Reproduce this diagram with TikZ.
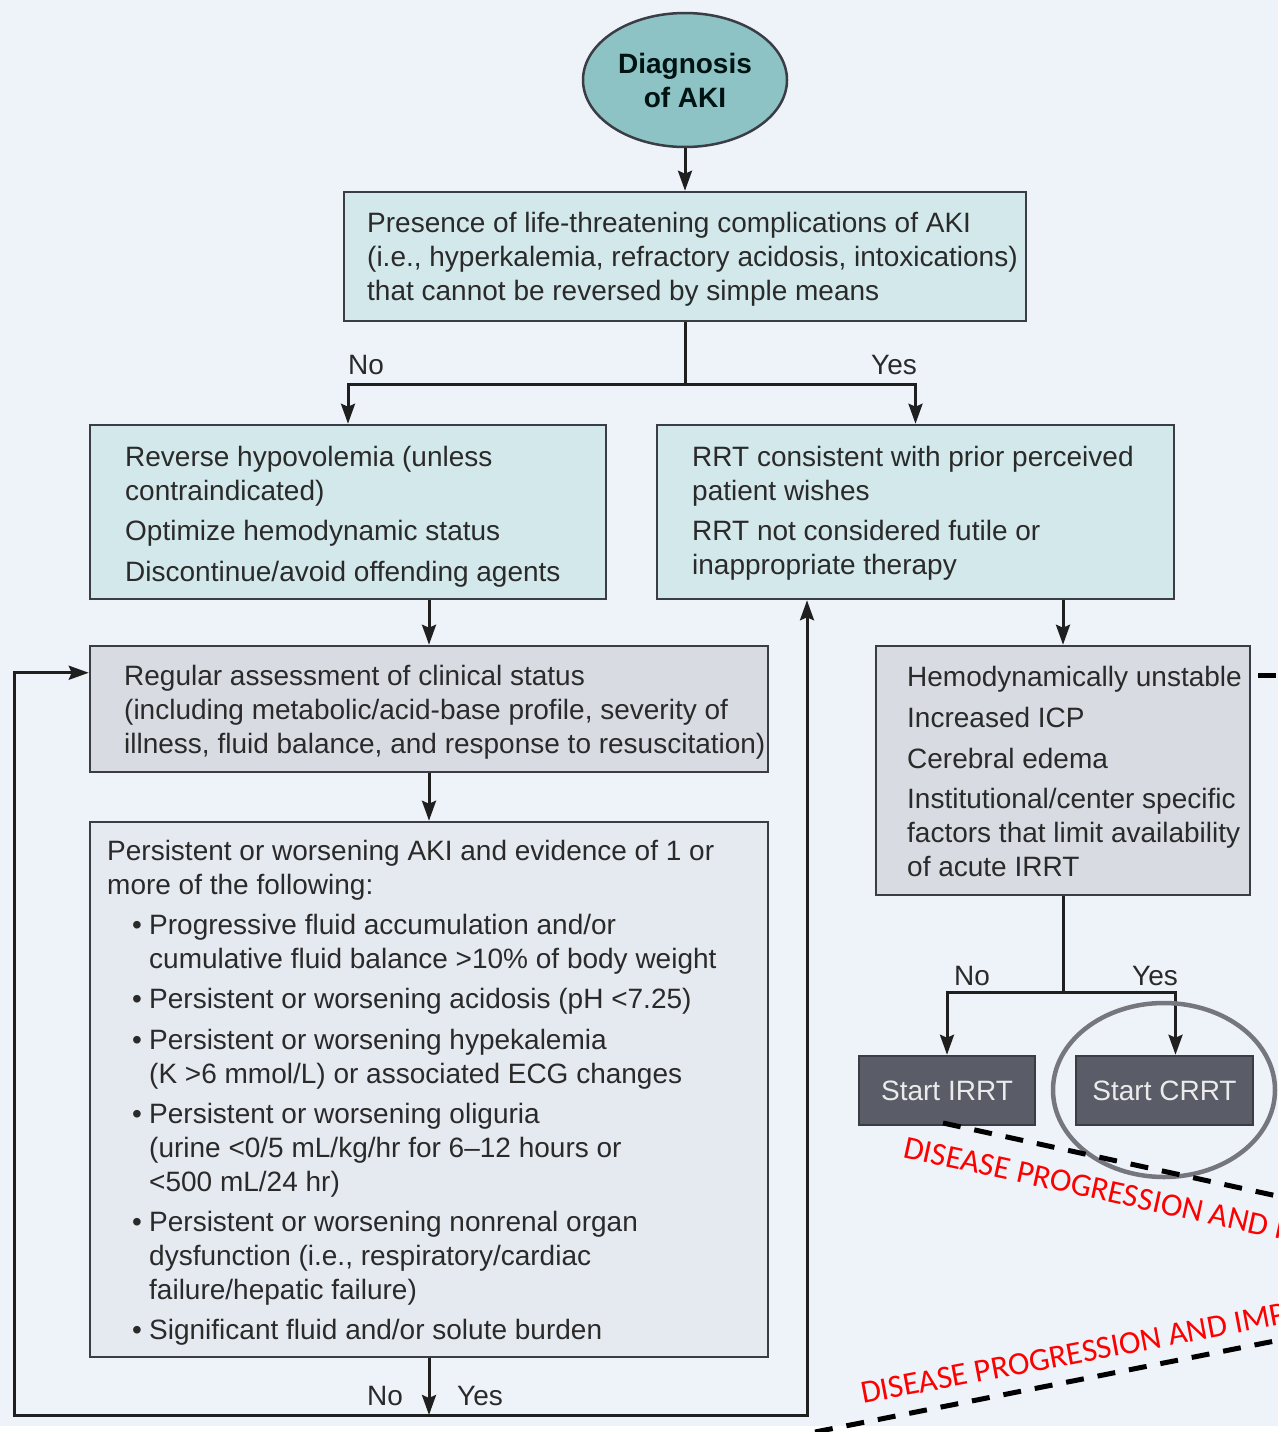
\documentclass[tikz,border=0pt]{standalone}
\usepackage{fontspec}
\setmainfont{Liberation Sans}
\newfontfamily\redfont{Carlito}
\usetikzlibrary{arrows.meta,calc,shapes.geometric}
\definecolor{bgc}{HTML}{EEF3FA}
\definecolor{tealfill}{HTML}{D3E8EB}
\definecolor{greyfill}{HTML}{D8DBE2}
\definecolor{lightfill}{HTML}{E5E9F0}
\definecolor{darkfill}{HTML}{5A5D67}
\definecolor{ellfill}{HTML}{8EC3C5}
\definecolor{edge}{HTML}{3A3D45}
\definecolor{txtc}{HTML}{2A2A2A}
\definecolor{ringc}{HTML}{76777E}
\tikzset{
  boxbase/.style={draw=edge, line width=2.5pt, inner sep=0pt, rectangle},
  tealbox/.style={boxbase, fill=tealfill},
  greybox/.style={boxbase, fill=greyfill},
  lightbox/.style={boxbase, fill=lightfill},
  darkbox/.style={boxbase, fill=darkfill, text=white!92!black},
  txt/.style={inner sep=0pt, align=left, text=txtc},
  lbl/.style={inner sep=0pt, text=txtc},
  arr/.style={draw=black!88, line width=3pt, -{Stealth[length=20pt,width=14pt,inset=3pt]}},
  ln/.style={draw=black!88, line width=3pt},
  dashline/.style={draw=black, line width=5pt, dash pattern=on 18pt off 14pt},
  redtxt/.style={inner sep=0pt, text=red, font=\redfont\fontsize{32.5}{38}\selectfont},
}
\begin{document}
\begin{tikzpicture}[x=1pt,y=1pt, font=\fontsize{28}{34}\selectfont]
\useasboundingbox (0,0) rectangle (1278,-1432);
\clip (0,0) rectangle (1278,-1432);
\fill[bgc] (0,0) rectangle (1278,-1432);
\fill[white] (0,-1426) rectangle (1278,-1432);

% ellipse
\node[ellipse, draw=edge, line width=2.5pt, fill=ellfill, minimum width=204pt, minimum height=134pt, inner sep=0pt, align=center, text=black!85!teal, font=\fontsize{28}{34}\selectfont\bfseries] (dx) at (685,-80) {Diagnosis\\of AKI};

% boxes
\node[tealbox, minimum width=682pt, minimum height=129pt] (b1) at (685,-256.5) {};
\node[tealbox, minimum width=516pt, minimum height=174pt] (b2) at (348,-512) {};
\node[tealbox, minimum width=517pt, minimum height=174pt] (b3) at (915.5,-512) {};
\node[greybox, minimum width=678pt, minimum height=126pt] (b4) at (429,-709) {};
\node[lightbox, minimum width=678pt, minimum height=535pt] (b5) at (429,-1089.5) {};
\node[greybox, minimum width=374pt, minimum height=249pt] (b6) at (1063,-770.5) {};
\node[darkbox, minimum width=176pt, minimum height=69pt] (irrt) at (947,-1090.5) {Start IRRT};
\node[darkbox, minimum width=177pt, minimum height=69pt] (crrt) at (1164.5,-1090.5) {Start CRRT};

% texts
\node[txt, anchor=west] (t1) at (367,-259) {Presence of life-threatening complications of AKI\\(i.e., hyperkalemia, refractory acidosis, intoxications)\\that cannot be reversed by simple means};
\node[txt, anchor=west] (t2) at (125,-516.5) {Reverse hypovolemia (unless\\contraindicated)\\[6pt]Optimize hemodynamic status\\[7pt]Discontinue/avoid offending agents};
\node[txt, anchor=west] (t3) at (692,-513) {RRT consistent with prior perceived\\patient wishes\\[6pt]RRT not considered futile or\\inappropriate therapy};
\node[txt, anchor=west] (t4) at (124,-712) {Regular assessment of clinical status\\(including metabolic/acid-base profile, severity of\\illness, fluid balance, and response to resuscitation)};
\node[txt, anchor=west] (t6) at (907,-771) {Hemodynamically unstable\\[7pt]Increased ICP\\[7pt]Cerebral edema\\[6pt]Institutional/center specific\\factors that limit availability\\of acute IRRT};
\node[txt, anchor=west] (t5) at (107,-1092.5) {Persistent or worsening AKI and evidence of 1 or\\more of the following:\\[6pt]
\hspace*{25pt}\makebox[17pt][l]{•}Progressive fluid accumulation and/or\\
\hspace*{42pt}cumulative fluid balance >10\% of body weight\\[6pt]
\hspace*{25pt}\makebox[17pt][l]{•}Persistent or worsening acidosis (pH <7.25)\\[7pt]
\hspace*{25pt}\makebox[17pt][l]{•}Persistent or worsening hypekalemia\\
\hspace*{42pt}(K >6 mmol/L) or associated ECG changes\\[6pt]
\hspace*{25pt}\makebox[17pt][l]{•}Persistent or worsening oliguria\\
\hspace*{42pt}(urine <0/5 mL/kg/hr for 6–12 hours or\\
\hspace*{42pt}<500 mL/24 hr)\\[6pt]
\hspace*{25pt}\makebox[17pt][l]{•}Persistent or worsening nonrenal organ\\
\hspace*{42pt}dysfunction (i.e., respiratory/cardiac\\
\hspace*{42pt}failure/hepatic failure)\\[6pt]
\hspace*{25pt}\makebox[17pt][l]{•}Significant fluid and/or solute burden};

% labels
\node[lbl] (n1) at (366,-365) {No};
\node[lbl] (y1) at (894,-365) {Yes};
\node[lbl] (n2) at (972,-976) {No};
\node[lbl] (y2) at (1155,-976) {Yes};
\node[lbl] (n3) at (385,-1396) {No};
\node[lbl] (y3) at (480,-1396) {Yes};

% coordinates
\coordinate (j1) at (685,-384);
\coordinate (jb) at (429,-1415);
\coordinate (lp) at (14,-1415);
\coordinate (rp) at (807,-1415);
\coordinate (j2) at (1063,-992);
\coordinate (crrtin) at ($(crrt.north)+(11,0)$);
\coordinate (b4in) at ($(b4.north west)+(0,-28)$);

% connectors
\draw[arr] (dx) -- (b1);
\draw[ln] (b1.south) -- (j1);
\draw[arr] (j1) -| (b2.north);
\draw[arr] (j1) -| (b3.north);
\draw[arr] (b2.south -| b4.north) -- (b4.north);
\draw[arr] (b4) -- (b5);
\draw[arr] (b5.south) -- (jb);
\draw[arr] (jb) -- (lp) |- (b4in);
\draw[arr] (jb) -- (rp) -- (rp |- b3.south);
\draw[arr] (b3.south -| b6.north) -- (b6.north);
\draw[ln] (b6.south) -- (j2);
\draw[arr] (j2) -| (irrt.north);
\draw[arr] (j2) -| (crrtin);

% highlight ring
\node[ellipse, draw=ringc, line width=4.5pt, minimum width=222pt, minimum height=174pt, inner sep=0pt] (ring) at (1164,-1090) {};

% dashed lines and red labels
\coordinate (d0a) at (1258,-675);
\coordinate (d0b) at (1300,-675);
\coordinate (d1a) at (943,-1123);
\coordinate (d1b) at (1300,-1201);
\coordinate (d2a) at (815,-1432);
\coordinate (d2b) at (1300,-1336);
\draw[dashline] (d0a) -- (d0b);
\draw[dashline] (d1a) -- (d1b);
\draw[dashline] (d2a) -- (d2b);
\node[redtxt, anchor=base west, rotate=-12.3] (r1) at (902,-1157) {DISEASE PROGRESSION AND I};
\node[redtxt, anchor=base west, rotate=10.7] (r2) at (863,-1404) {DISEASE PROGRESSION AND IMP};
\end{tikzpicture}
\end{document}
